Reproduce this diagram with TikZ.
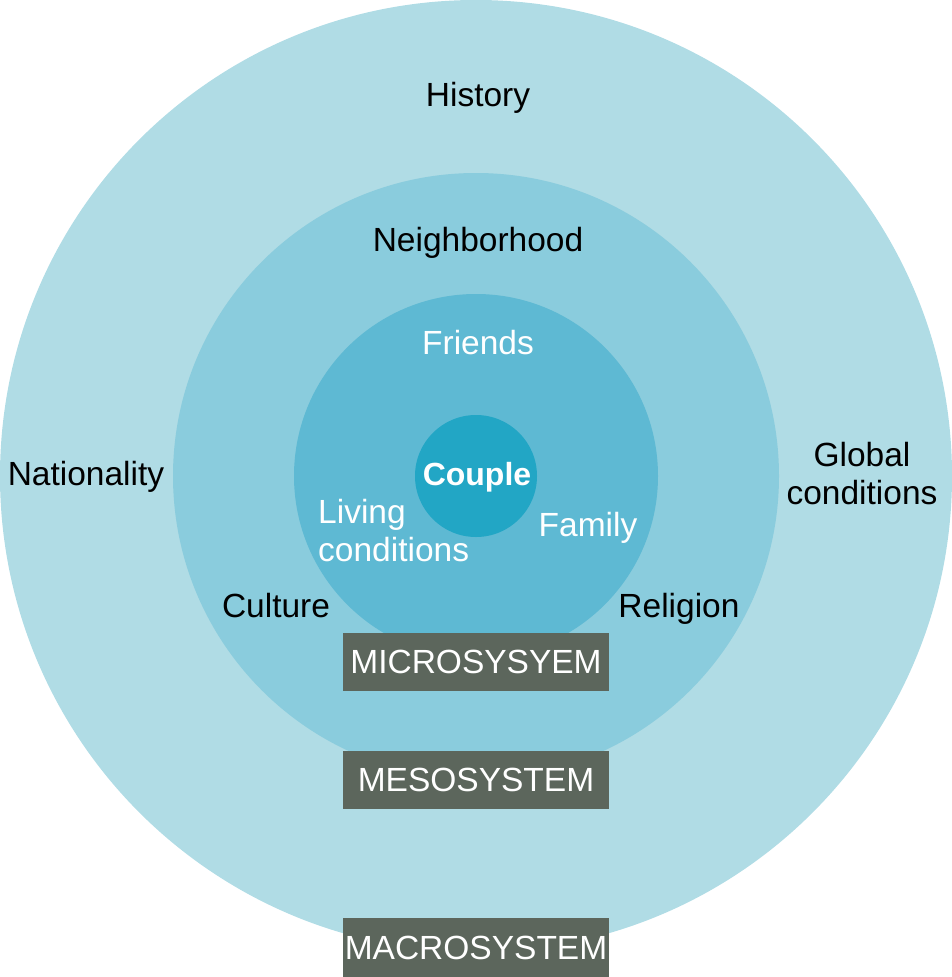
\documentclass[tikz,border=0pt]{standalone}
\usepackage{fontspec}
\setmainfont{Liberation Sans}
\definecolor{outerc}{HTML}{B0DCE5}
\definecolor{midc}{HTML}{8ACCDD}
\definecolor{innerc}{HTML}{5EB9D3}
\definecolor{corec}{HTML}{22A6C5}
\definecolor{boxc}{HTML}{5C665C}
\begin{document}
\begin{tikzpicture}[x=1pt,y=-1pt,
  lbl/.style={font=\fontsize{33.5}{38}\selectfont, inner sep=0pt},
  dark/.style={lbl, text=black},
  light/.style={lbl, text=white},
  sysbox/.style={fill=boxc, text=white, minimum width=266pt, minimum height=58pt, inner sep=0pt, font=\fontsize{33.5}{38}\selectfont}]
\useasboundingbox (0,0) rectangle (952,977);
\fill[outerc] (476,476) circle (476);
\fill[midc] (476,476) circle (303);
\fill[innerc] (476,476) circle (182);
\fill[corec] (476,476) circle (61);
\node[dark] (history) at (478,98) {History};
\node[dark] (neigh) at (478,243) {Neighborhood};
\node[light] (friends) at (478,343) {Friends};
\node[light, font=\fontsize{32}{38}\selectfont\bfseries] (couple) at (477,477) {Couple};
\node[light, align=left, anchor=west] (living) at (318,531) {Living\\conditions};
\node[light] (family) at (588,528) {Family};
\node[dark] (culture) at (276,606) {Culture};
\node[dark] (religion) at (679,609) {Religion};
\node[dark] (nation) at (86,477) {Nationality};
\node[dark, align=center] (global) at (862,474) {Global\\conditions};
\node[sysbox] (micro) at (476,662) {MICROSYSYEM};
\node[sysbox] (meso) at (476,780) {MESOSYSTEM};
\node[sysbox, minimum height=59pt] (macro) at (476,947.5) {MACROSYSTEM};
\end{tikzpicture}
\end{document}
